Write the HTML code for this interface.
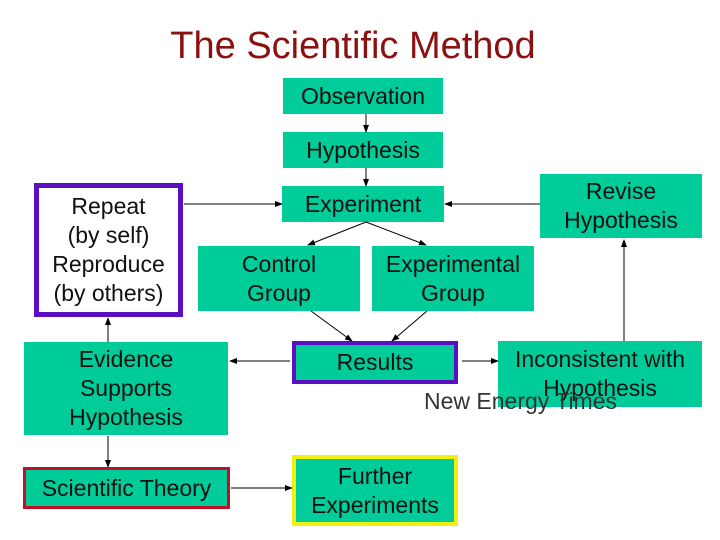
<!DOCTYPE html>
<html><head><style>
body{margin:0;width:720px;height:540px;background:#fff;position:relative;overflow:hidden;font-family:"Liberation Sans",Arial,sans-serif}
.b{position:absolute;background:#00CC99;color:#111;font-size:23px;line-height:29px;text-align:center;box-sizing:border-box;display:flex;align-items:center;justify-content:center;white-space:nowrap}
.t{position:absolute;left:0;width:706px;top:25px;text-align:center;font-size:38px;color:#8B1010}
svg{position:absolute;left:0;top:0}
</style></head><body>
<div class="t">The Scientific Method</div>
<div class="b" style="left:283px;top:78px;width:160px;height:36px">Observation</div>
<div class="b" style="left:283px;top:132px;width:160px;height:36px">Hypothesis</div>
<div class="b" style="left:282px;top:186px;width:162px;height:36px">Experiment</div>
<div class="b" style="left:540px;top:174px;width:162px;height:64px">Revise<br>Hypothesis</div>
<div class="b" style="left:34px;top:183px;width:149px;height:134px;background:#fff;border:5px solid #5a0fc0">Repeat<br>(by self)<br>Reproduce<br>(by others)</div>
<div class="b" style="left:198px;top:246px;width:162px;height:65px">Control<br>Group</div>
<div class="b" style="left:372px;top:246px;width:162px;height:65px">Experimental<br>Group</div>
<div class="b" style="left:292px;top:341px;width:166px;height:43px;border:4px solid #5a0fc0">Results</div>
<div class="b" style="left:498px;top:341px;width:204px;height:66px;align-items:flex-start;padding-top:4px">Inconsistent with<br>Hypothesis</div>
<div class="b" style="left:24px;top:342px;width:204px;height:93px">Evidence<br>Supports<br>Hypothesis</div>
<div class="b" style="left:23px;top:467px;width:207px;height:42px;border:3px solid #c0102a">Scientific Theory</div>
<div class="b" style="left:292px;top:455px;width:166px;height:71px;border:4px solid #f0f010">Further<br>Experiments</div>
<div style="position:absolute;left:424px;top:388px;font-size:23px;color:#333;white-space:nowrap">New Energy Times</div>
<svg width="720" height="540">
<defs><marker id="a" markerWidth="8" markerHeight="8" refX="7" refY="4" orient="auto" markerUnits="userSpaceOnUse"><path d="M0,1 L8,4 L0,7z" fill="#000"/></marker></defs>
<g stroke="#000" stroke-width="1" fill="none" marker-end="url(#a)">
<line x1="366" y1="114" x2="366" y2="132"/>
<line x1="366" y1="168" x2="366" y2="186"/>
<line x1="184" y1="204" x2="282" y2="204"/>
<line x1="540" y1="204" x2="445" y2="204"/>
<line x1="366" y1="222" x2="308" y2="245"/>
<line x1="366" y1="222" x2="426" y2="245"/>
<line x1="311" y1="311" x2="352" y2="341"/>
<line x1="427" y1="311" x2="392" y2="341"/>
<line x1="290" y1="361" x2="230" y2="361"/>
<line x1="462" y1="361" x2="498" y2="361"/>
<line x1="624" y1="341" x2="624" y2="240"/>
<line x1="108" y1="342" x2="108" y2="318"/>
<line x1="108" y1="436" x2="108" y2="467"/>
<line x1="231" y1="488" x2="292" y2="488"/>
</g></svg>
</body></html>
